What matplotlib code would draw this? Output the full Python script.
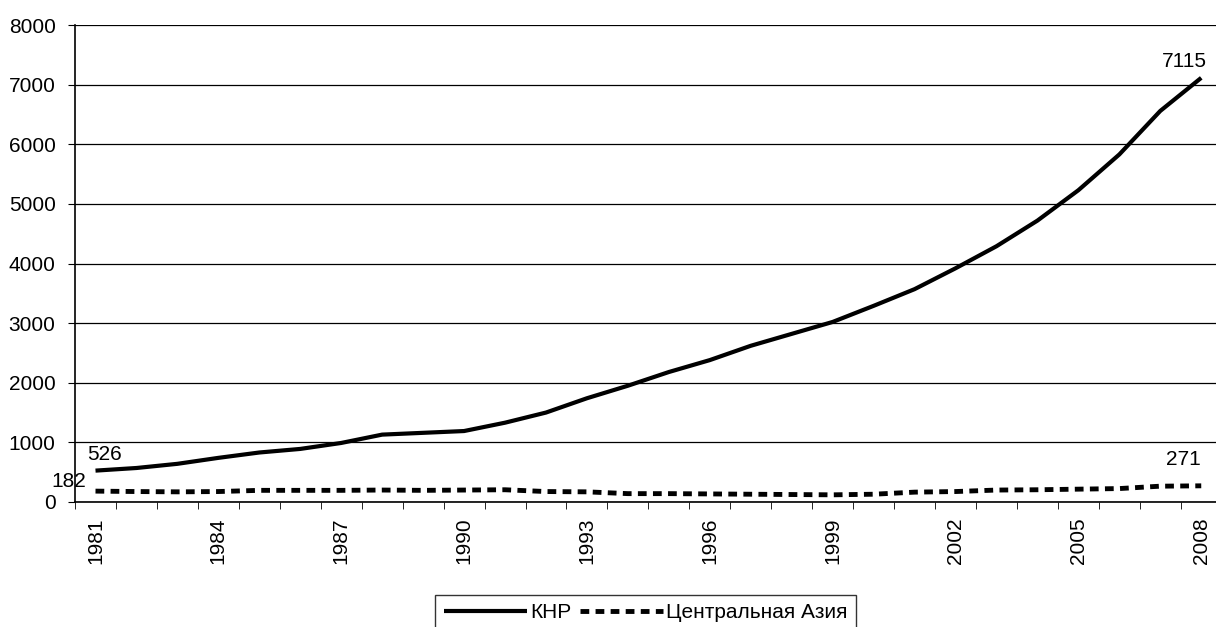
import numpy as np
import matplotlib.pyplot as plt

plt.rcParams['font.family'] = ['Liberation Sans', 'DejaVu Sans']

# years and series
years = list(range(1981, 2009))
khr = [526, 570, 640, 740, 830, 890, 990, 1130, 1160, 1190,
       1330, 1500, 1740, 1950, 2180, 2380, 2620, 2820, 3020, 3290,
       3570, 3920, 4290, 4720, 5230, 5830, 6560, 7115]
central_asia = [182, 175, 170, 175, 195, 195, 195, 200, 195, 200,
                205, 175, 170, 140, 140, 135, 130, 125, 120, 130,
                165, 175, 200, 205, 215, 225, 265, 271]
labels = ['КНР', 'Центральная Азия']

fig = plt.figure(figsize=(12.16, 6.27), dpi=100)
# plot area runs a bit past the right edge, as in the source image
ax = fig.add_axes([0.0617, 0.1994, 0.943, 0.7606])

x = np.arange(len(years))
ax.plot(x, khr, color='black', lw=3, label=labels[0], solid_capstyle='butt')
ax.plot(x, central_asia, color='black', lw=3.5, dashes=(1.8, 1.3), label=labels[1])

# data labels at first and last points
fs = 15
ax.annotate(str(khr[0]), (x[0], khr[0]), xytext=(-6, 5), textcoords='offset points',
            fontsize=fs, ha='left', va='bottom')
ax.annotate(str(central_asia[0]), (x[0], central_asia[0]), xytext=(-7, 0), textcoords='offset points',
            fontsize=fs, ha='right', va='bottom')
ax.annotate(str(khr[-1]), (x[-1], khr[-1]), xytext=(4, 5), textcoords='offset points',
            fontsize=fs, ha='right', va='bottom')
ax.annotate(str(central_asia[-1]), (x[-1], central_asia[-1]), xytext=(0, 12), textcoords='offset points',
            fontsize=fs, ha='right', va='bottom')

ax.set_xlim(-0.5, len(years) - 0.5)
ax.set_ylim(0, 8000)
ax.set_yticks(range(0, 8001, 1000))
ax.yaxis.grid(True, color='black', lw=0.9)
ax.set_axisbelow(True)

ax.set_xticks(x[::3])
ax.set_xticklabels([str(y) for y in years[::3]], rotation=90)
ax.set_xticks(np.arange(-0.5, len(years), 1), minor=True)
ax.tick_params(axis='x', which='major', length=0, pad=11, labelsize=fs)
ax.tick_params(axis='x', which='minor', length=5, direction='out', color='black')
ax.tick_params(axis='y', length=5, direction='out', labelsize=fs, pad=9)

for s in ['top', 'right']:
    ax.spines[s].set_visible(False)
for s in ['left', 'bottom']:
    ax.spines[s].set_color('black')
    ax.spines[s].set_linewidth(1.2)

leg = fig.legend(loc='upper center', bbox_to_anchor=(0.531, 0.051), ncol=2, frameon=True,
                 fontsize=fs, handlelength=4.0, columnspacing=0.4, handletextpad=0.15,
                 borderpad=0.4, borderaxespad=0, fancybox=False)
leg.get_frame().set_edgecolor('black')
leg.get_frame().set_linewidth(1.0)

fig.savefig('out.png', dpi=100)
